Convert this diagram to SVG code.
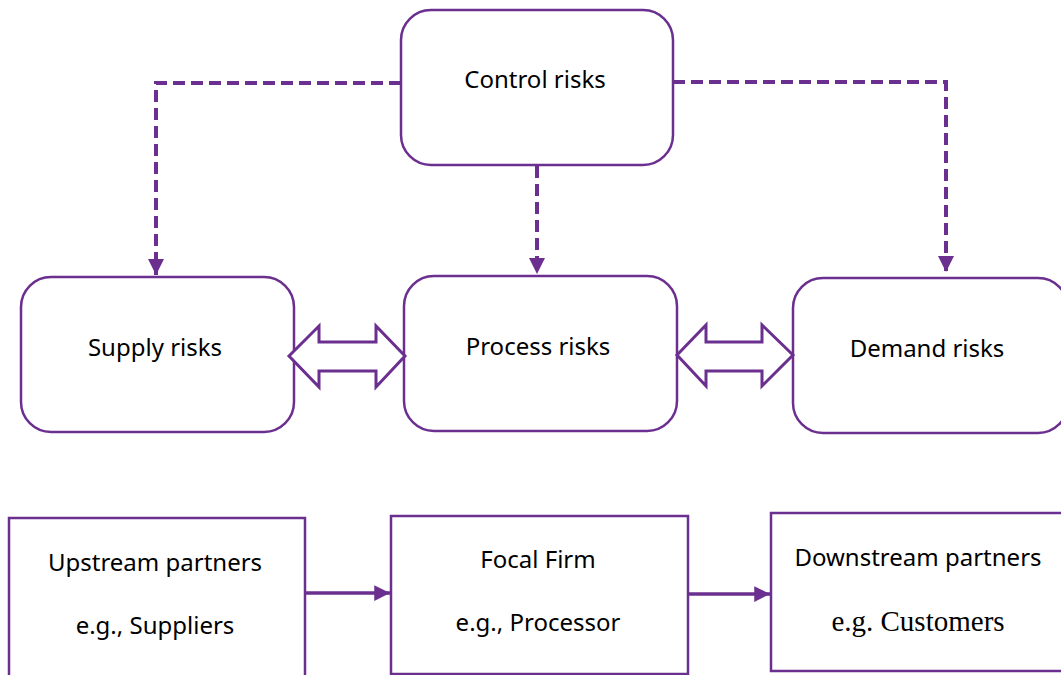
<svg xmlns="http://www.w3.org/2000/svg" width="1061" height="675" viewBox="0 0 1061 675">
<defs>
<style>
.node{fill:#fff;stroke:#6b2f8f;stroke-width:2.5}
.t{font-family:"Noto Sans","DejaVu Sans",sans-serif;font-size:24px;fill:#000;text-anchor:middle}
.s{font-family:"Liberation Serif",serif;font-size:29px;fill:#000;text-anchor:middle}
.dash{fill:none;stroke:#6b2f8f;stroke-width:4;stroke-dasharray:12,6}
.solid{fill:none;stroke:#6b2f8f;stroke-width:3.5}
.dbl{fill:#fff;stroke:#6b2f8f;stroke-width:3;stroke-linejoin:miter}
</style>
<marker id="ah" viewBox="0 0 10 10" refX="10" refY="5" markerWidth="4" markerHeight="4" markerUnits="strokeWidth" orient="auto">
<path d="M0,0 L10,5 L0,10 z" fill="#6b2f8f"/>
</marker>
<marker id="ah2" viewBox="0 0 10 10" refX="10" refY="5" markerWidth="4.5" markerHeight="4.5" markerUnits="strokeWidth" orient="auto">
<path d="M0,0 L10,5 L0,10 z" fill="#6b2f8f"/>
</marker>
</defs>
<rect width="1061" height="675" fill="#fff"/>
<g id="connectors">
<path class="dash" d="M401,83 H156 V275" marker-end="url(#ah)"/>
<path class="dash" d="M537,166 V274" marker-end="url(#ah)"/>
<path class="dash" d="M673,82 H946 V272" marker-end="url(#ah)"/>
<path class="solid" d="M305,593 H390" marker-end="url(#ah2)"/>
<path class="solid" d="M688,594 H770" marker-end="url(#ah2)"/>
</g>
<g id="control"><rect class="node" x="401" y="10" width="272" height="155" rx="30"/><text class="t" x="535" y="88">Control risks</text></g>
<g id="supply"><rect class="node" x="21" y="277" width="273" height="155" rx="30"/><text class="t" x="155" y="356">Supply risks</text></g>
<g id="process"><rect class="node" x="404" y="276" width="273" height="155" rx="30"/><text class="t" x="538" y="355">Process risks</text></g>
<g id="demand"><rect class="node" x="793" y="278" width="275" height="155" rx="30"/><text class="t" x="927" y="357">Demand risks</text></g>
<g id="dbl1"><path class="dbl" d="M289,356 L319,326 V342 H376 V326 L405,356 L376,387 V371 H319 V387 Z"/></g>
<g id="dbl2"><path class="dbl" d="M677,355 L706,325 V342 H762 V325 L793,355 L762,386 V371 H706 V386 Z"/></g>
<g id="upstream"><rect class="node" x="9" y="518" width="296" height="170"/><text class="t" x="155" y="571">Upstream partners</text><text class="t" x="155" y="634">e.g., Suppliers</text></g>
<g id="focal"><rect class="node" x="391" y="516" width="297" height="158"/><text class="t" x="538" y="568">Focal Firm</text><text class="t" x="538" y="631">e.g., Processor</text></g>
<g id="downstream"><rect class="node" x="771" y="513" width="300" height="158"/><text class="t" x="918" y="566">Downstream partners</text><text class="s" x="918" y="631">e.g. Customers</text></g>
</svg>
